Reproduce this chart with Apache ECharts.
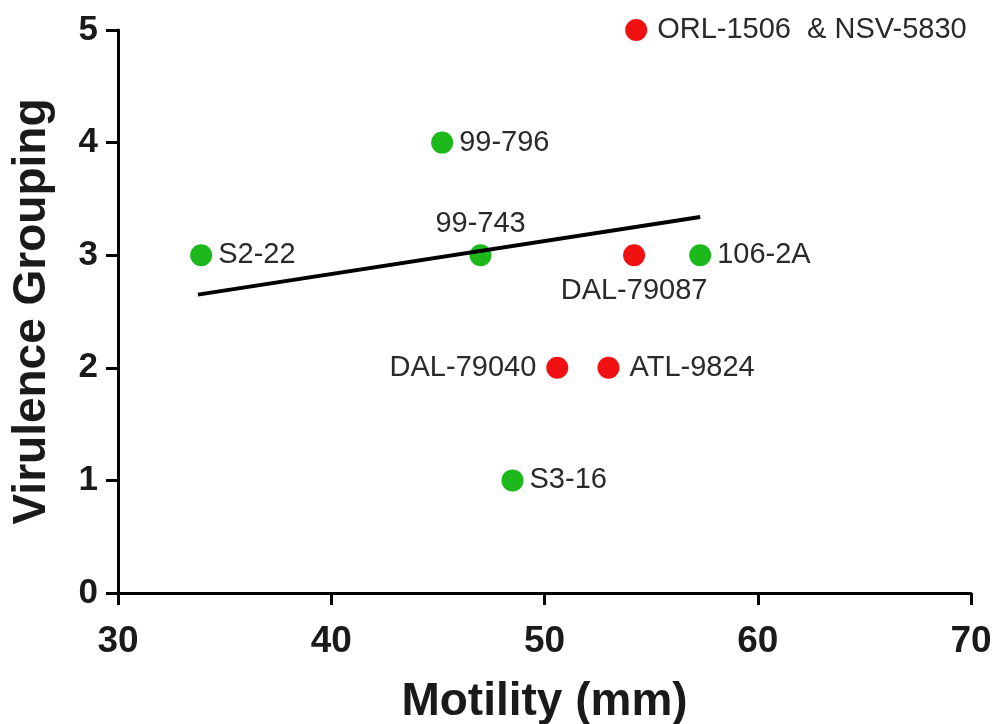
<!DOCTYPE html>
<html>
<head>
<meta charset="utf-8">
<script src="https://cdn.jsdelivr.net/npm/echarts@6/dist/echarts.min.js"></script>
<style>
    html, body {margin:0;padding:0;background:#fff;}
    #chart {width:995px;height:724px;}
</style>
</head>
<body>
<div id="chart"></div>
<script>
    // green strains
    var greenNames = ['S2-22', '99-743', '99-796', 'S3-16', '106-2A'];
    var greenMotility = [33.9, 47.0, 45.2, 48.5, 57.3];
    var greenGrouping = [3, 3, 4, 1, 3];

    // red strains
    var redNames = ['ORL-1506  & NSV-5830', 'DAL-79087', 'DAL-79040', 'ATL-9824'];
    var redMotility = [54.3, 54.2, 50.6, 53.0];
    var redGrouping = [5, 3, 2, 2];

    // regression line end points
    var fitMotility = [33.75, 57.3];
    var fitGrouping = [2.65, 3.34];

    var xTicks = [30, 40, 50, 60, 70];
    var yTicks = [0, 1, 2, 3, 4, 5];

    // where each name sits against its dot
    var labelPos = {
        '99-743': 'top',
        'DAL-79087': 'bottom',
        'DAL-79040': 'left'
    };

    var font = '"Liberation Sans", Arial, sans-serif';

    function points(names, xs, ys) {
        return names.map(function (n, i) {
            return {
                name: n,
                value: [xs[i], ys[i]],
                label: {position: labelPos[n] || 'right'}
            };
        });
    }

    var chart = echarts.init(document.getElementById('chart'));
    var option = {
        animation: false,
        grid: {left: 118, right: 24, top: 30, bottom: 131, outerBoundsMode: 'none', containLabel: false},
        xAxis: {
            type: 'value',
            min: xTicks[0],
            max: xTicks[xTicks.length - 1],
            interval: 10,
            name: 'Motility (mm)',
            nameLocation: 'middle',
            nameGap: 86,
            nameTextStyle: {fontFamily: font, fontWeight: 'bold', fontSize: 46, color: '#1a1a1a'},
            axisLine: {lineStyle: {color: '#000', width: 3}},
            axisTick: {length: 12, lineStyle: {color: '#000', width: 3}},
            axisLabel: {fontFamily: font, fontWeight: 'bold', fontSize: 37, color: '#1a1a1a', margin: 30},
            splitLine: {show: false}
        },
        yAxis: {
            type: 'value',
            min: yTicks[0],
            max: yTicks[yTicks.length - 1],
            interval: 1,
            name: 'Virulence Grouping',
            nameLocation: 'middle',
            nameGap: 63,
            nameTextStyle: {fontFamily: font, fontWeight: 'bold', fontSize: 46, color: '#1a1a1a'},
            axisLine: {lineStyle: {color: '#000', width: 3}},
            axisTick: {length: 12, lineStyle: {color: '#000', width: 3}},
            axisLabel: {fontFamily: font, fontWeight: 'bold', fontSize: 35, color: '#1a1a1a', margin: 20},
            splitLine: {show: false}
        },
        series: [
            {
                type: 'line',
                data: fitMotility.map(function (x, i) { return [x, fitGrouping[i]]; }),
                showSymbol: false,
                lineStyle: {color: '#000', width: 4},
                z: 3
            },
            {
                type: 'scatter',
                data: points(greenNames, greenMotility, greenGrouping),
                symbolSize: 22,
                itemStyle: {color: '#1cb81c', opacity: 1},
                label: {
                    show: true,
                    formatter: '{b}',
                    distance: 6,
                    fontFamily: font,
                    fontSize: 29,
                    color: '#2a2a2a'
                },
                z: 2
            },
            {
                type: 'scatter',
                data: points(redNames, redMotility, redGrouping),
                symbolSize: 22,
                itemStyle: {color: '#f01212', opacity: 1},
                label: {
                    show: true,
                    formatter: '{b}',
                    distance: 10,
                    fontFamily: font,
                    fontSize: 29,
                    color: '#2a2a2a'
                },
                z: 2
            }
        ]
    };
    chart.setOption(option);
</script>
</body>
</html>
